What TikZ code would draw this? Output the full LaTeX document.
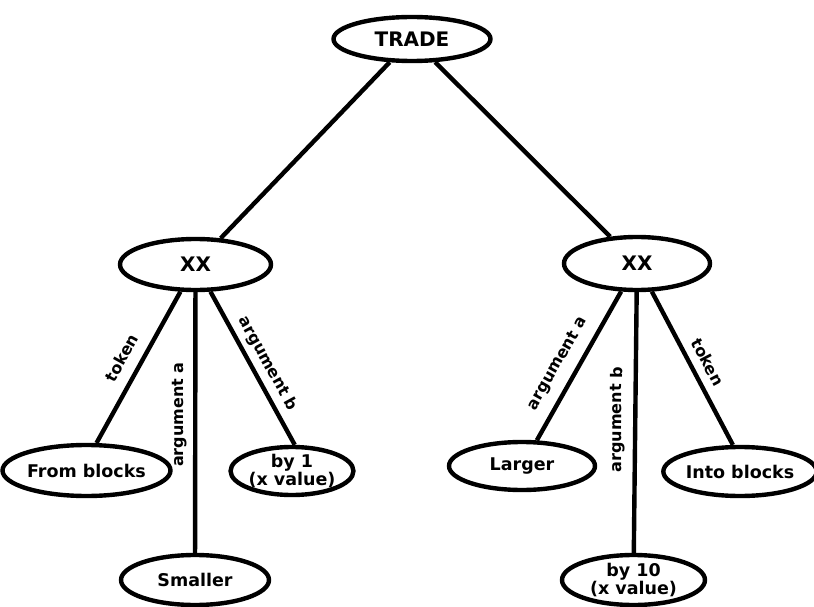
\documentclass[tikz,border=0pt]{standalone}
\usepackage{fontspec}
\setmainfont{DejaVu Sans}
\usetikzlibrary{shapes.geometric}

\tikzset{
  oval/.style={ellipse, draw, line width=4.4pt, inner sep=0pt, align=center,
    font=\fontsize{17.5}{17}\selectfont\bfseries},
  bigoval/.style={oval, font=\fontsize{20}{20}\selectfont\bfseries},
  link/.style={line width=4.4pt},
  lab/.style={sloped, inner sep=2pt, font=\fontsize{16}{16}\selectfont\bfseries}
}

\begin{document}
\begin{tikzpicture}[x=1pt, y=-1pt]
  \useasboundingbox (0,0) rectangle (814,607);

  % root
  \node[bigoval, minimum width=157pt, minimum height=44pt] (trade) at (412,39) {TRADE};

  % second level
  \node[bigoval, minimum width=151pt, minimum height=51pt] (xx1) at (195.5,264.5) {XX};
  \node[bigoval, minimum width=146pt, minimum height=53pt] (xx2) at (637,263.5) {XX};

  % leaves, left subtree
  \node[oval, minimum width=143pt, minimum height=51pt] (fb) at (86.5,470.5) {From blocks};
  \node[oval, minimum width=116pt, minimum height=48pt] (by1) at (292,471) {by 1\\(x value)};
  \node[oval, minimum width=148pt, minimum height=50pt] (sm) at (195,580) {Smaller};

  % leaves, right subtree
  \node[oval, minimum width=146pt, minimum height=48pt] (lg) at (522,466) {Larger};
  \node[oval, minimum width=140pt, minimum height=49pt] (ib) at (740,471.5) {Into blocks};
  \node[oval, minimum width=143pt, minimum height=50pt] (by10) at (633.5,580) {by 10\\(x value)};

  % root links
  \draw[link] (trade) -- (xx1);
  \draw[link] (trade) -- (xx2);

  % left subtree links
  \draw[link] (fb.70) -- (xx1) node[lab, pos=0.5, above=9pt] {token};
  \draw[link] (sm) -- (xx1) node[lab, pos=0.53, above=4pt] {argument a};
  \draw[link] (xx1) -- (by1.84) node[lab, pos=0.52, above=3.5pt] {argument b};

  % right subtree links
  \draw[link] (lg.60) -- (xx2) node[lab, pos=0.45, above=8pt] {argument a};
  \draw[link] (by10) -- (xx2) node[lab, pos=0.51, above=6pt] {argument b};
  \draw[link] (xx2) -- (ib.105) node[lab, pos=0.51, above=6pt] {token};
\end{tikzpicture}
\end{document}
